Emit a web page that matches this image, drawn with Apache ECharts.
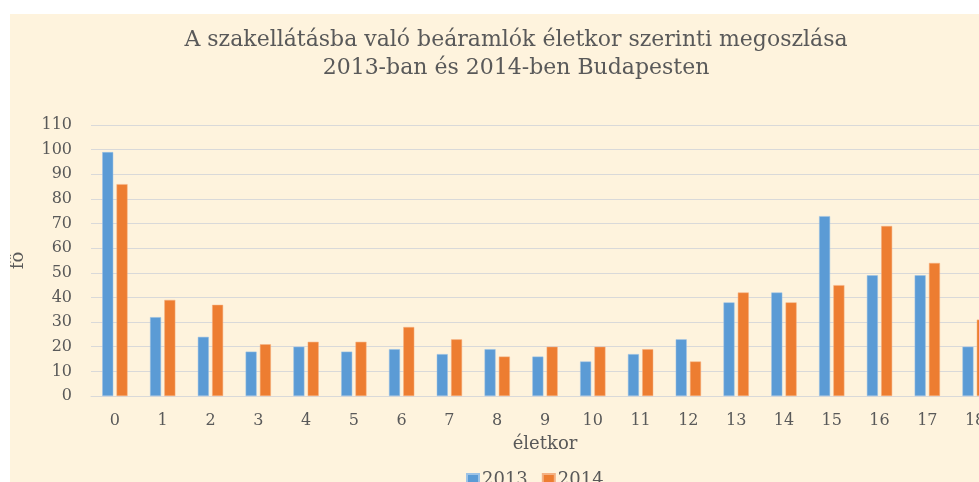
<!DOCTYPE html>
<html>
<head>
<meta charset="utf-8">
<script src="https://cdn.jsdelivr.net/npm/echarts@6/dist/echarts.min.js"></script>
<style>
  html, body { margin: 0; padding: 0; background: #ffffff; overflow: hidden; }
  #chart { position: absolute; left: 10px; top: 14px; width: 1012px; height: 480px; background: #fef3dd; }
</style>
</head>
<body>
<div id="chart"></div>
<script>
  // életkor kategóriák
  const ages = ['0', '1', '2', '3', '4', '5', '6', '7', '8', '9', '10', '11', '12', '13', '14', '15', '16', '17', '18']
  const values2013 = [99, 32, 24, 18, 20, 18, 19, 17, 19, 16, 14, 17, 23, 38, 42, 73, 49, 49, 20]
  const values2014 = [86, 39, 37, 21, 22, 22, 28, 23, 16, 20, 20, 19, 14, 42, 38, 45, 69, 54, 31]

  const textColor = '#595959'
  const font = 'DejaVu Serif'

  let chart = echarts.init(document.getElementById('chart'))
  chart.setOption({
    animation: false,
    title: {
      text: 'A szakellátásba való beáramlók életkor szerinti megoszlása\n2013-ban és 2014-ben Budapesten',
      left: 'center',
      top: 7,
      textStyle: {
        fontFamily: font,
        fontSize: 22,
        fontWeight: 'normal',
        color: textColor,
        lineHeight: 28,
      },
    },
    legend: {
      data: ['2013', '2014'],
      left: 451,
      top: 452,
      itemWidth: 12,
      itemHeight: 12,
      itemGap: 14,
      icon: 'rect',
      textStyle: { fontFamily: font, fontSize: 18, color: textColor, padding: [0, 0, 0, -2] },
    },
    grid: { left: 81, right: 23, top: 111, bottom: 98, outerBoundsMode: 'none' },
    xAxis: {
      type: 'category',
      data: ages,
      name: 'életkor',
      nameLocation: 'middle',
      nameGap: 39,
      nameTextStyle: { fontFamily: font, fontSize: 18, color: textColor },
      axisLine: { lineStyle: { color: '#d9d9d9', width: 1 } },
      axisTick: { show: false },
      axisLabel: { fontFamily: font, fontSize: 16, color: textColor, margin: 17 },
    },
    yAxis: {
      type: 'value',
      min: 0,
      max: 110,
      interval: 10,
      name: 'fő',
      nameLocation: 'middle',
      nameGap: 64,
      nameTextStyle: { fontFamily: font, fontSize: 18, color: textColor },
      axisLine: { show: false },
      axisTick: { show: false },
      axisLabel: { fontFamily: font, fontSize: 16, color: textColor, margin: 19 },
      splitLine: { lineStyle: { color: '#d9d9d9', width: 1 } },
    },
    series: [
      {
        name: '2013',
        type: 'bar',
        data: values2013,
        barWidth: 11,
        barGap: '30%',
        itemStyle: { color: '#5b9bd5', borderColor: '#9dc3e6', borderWidth: 0.5 },
      },
      {
        name: '2014',
        type: 'bar',
        data: values2014,
        barWidth: 11,
        itemStyle: { color: '#ed7d31', borderColor: '#f4b183', borderWidth: 0.5 },
      },
    ],
  })
</script>
</body>
</html>
